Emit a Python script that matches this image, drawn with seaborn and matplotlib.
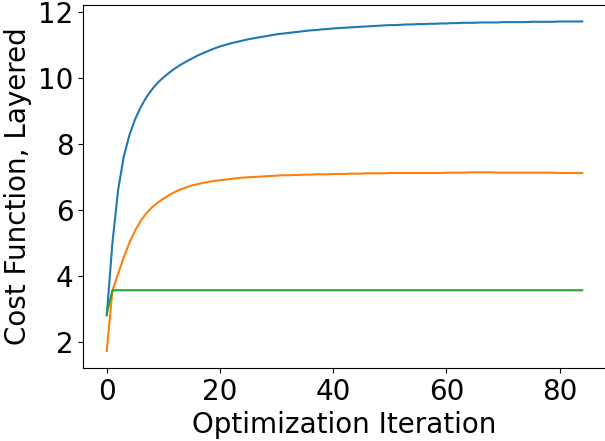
import matplotlib
matplotlib.use("Agg")
import matplotlib.pyplot as plt
import seaborn as sns
import pandas as pd

iterations = list(range(85))

blue_values = [
    2.80, 5.00, 6.60, 7.62, 8.27, 8.75, 9.12, 9.42, 9.66, 9.86,
    10.02, 10.16, 10.29, 10.40, 10.50, 10.59, 10.68, 10.76, 10.83, 10.90,
    10.96, 11.01, 11.06, 11.10, 11.14, 11.18, 11.21, 11.24, 11.27, 11.30,
    11.33, 11.35, 11.37, 11.39, 11.41, 11.43, 11.45, 11.46, 11.48, 11.49,
    11.51, 11.52, 11.53, 11.54, 11.55, 11.56, 11.57, 11.58, 11.59, 11.60,
    11.61, 11.61, 11.62, 11.63, 11.63, 11.64, 11.64, 11.65, 11.65, 11.66,
    11.66, 11.67, 11.67, 11.68, 11.68, 11.68, 11.69, 11.69, 11.69, 11.69,
    11.70, 11.70, 11.70, 11.70, 11.70, 11.71, 11.71, 11.71, 11.71, 11.71,
    11.72, 11.72, 11.72, 11.72, 11.72,
]

orange_values = [
    1.72, 3.55, 4.06, 4.56, 5.00, 5.37, 5.67, 5.90, 6.08, 6.22,
    6.34, 6.45, 6.54, 6.62, 6.68, 6.74, 6.78, 6.82, 6.85, 6.88,
    6.90, 6.92, 6.94, 6.96, 6.98, 6.99, 7.00, 7.01, 7.02, 7.03,
    7.04, 7.05, 7.05, 7.06, 7.06, 7.07, 7.07, 7.08, 7.08, 7.08,
    7.09, 7.09, 7.09, 7.10, 7.10, 7.10, 7.11, 7.11, 7.11, 7.11,
    7.12, 7.12, 7.12, 7.12, 7.12, 7.12, 7.12, 7.12, 7.12, 7.12,
    7.13, 7.13, 7.13, 7.13, 7.14, 7.14, 7.14, 7.14, 7.14, 7.13,
    7.13, 7.13, 7.13, 7.13, 7.13, 7.13, 7.13, 7.13, 7.13, 7.13,
    7.12, 7.12, 7.12, 7.12, 7.12,
]

green_values = [2.85] + [3.56] * 84

series_names = ["blue", "orange", "green"]
series_values = [blue_values, orange_values, green_values]

rows = []
for name, vals in zip(series_names, series_values):
    for x, y in zip(iterations, vals):
        rows.append({"iteration": x, "cost": y, "series": name})
df = pd.DataFrame(rows)

plt.rcParams["font.family"] = ["DejaVu Sans"]
plt.rcParams["font.size"] = 20

fig = plt.figure(figsize=(6.05, 4.41), dpi=100)
ax = fig.add_axes([83 / 605, (441 - 368) / 441, (606 - 83) / 605, (368 - 5) / 441])

palette = ["#1f77b4", "#ff7f0e", "#2ca02c"]
sns.lineplot(data=df, x="iteration", y="cost", hue="series",
             hue_order=series_names, palette=palette, legend=False,
             linewidth=1.5, ax=ax)

ax.set_xlabel("Optimization Iteration", fontsize=20)
ax.set_ylabel("Cost Function, Layered", fontsize=20)
ax.tick_params(labelsize=20)
ax.set_xticks([0, 20, 40, 60, 80])
ax.set_yticks([2, 4, 6, 8, 10, 12])
ax.set_xlim(-4.2, 88.2)
ax.set_ylim(1.2, 12.22)

fig.savefig("out.png", dpi=100)
